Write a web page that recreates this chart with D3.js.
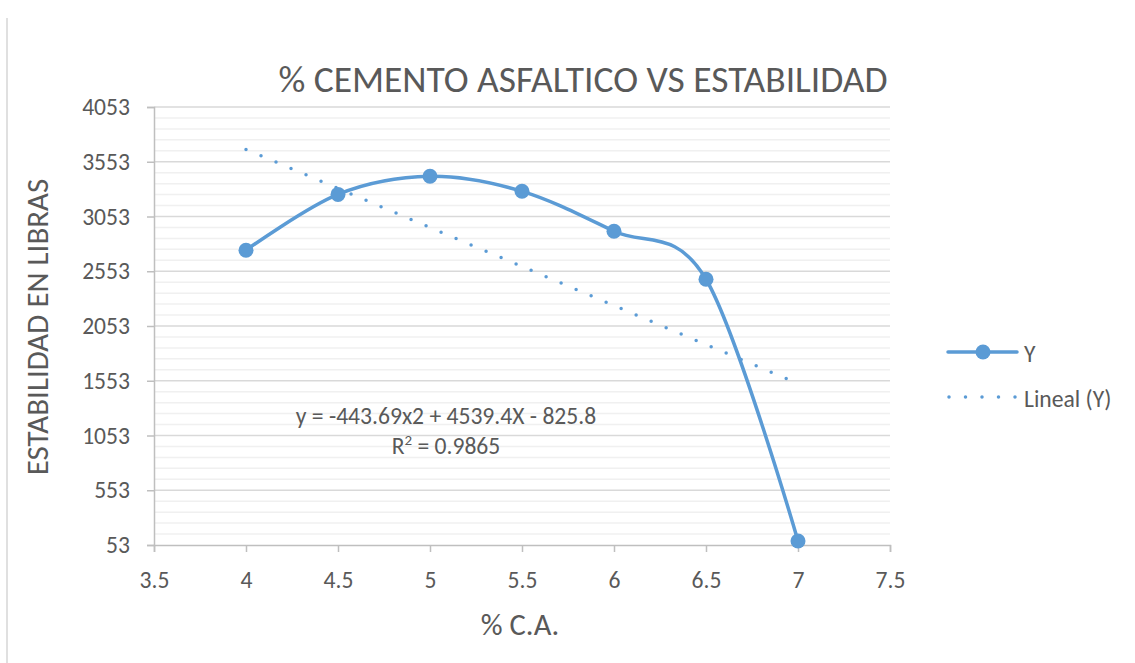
<!DOCTYPE html>
<html>
<head>
<meta charset="utf-8">
<script src="https://cdn.jsdelivr.net/npm/d3@7"></script>
<style>
    html, body { margin: 0; padding: 0; background: #fff; }
    #chart { width: 1135px; height: 663px; }
    text { font-family: Carlito, Lato, "Open Sans", sans-serif; fill: #595959; }
</style>
</head>
<body>
<div id="chart"></div>
<script>
// data
var caPercent = [4, 4.5, 5, 5.5, 6, 6.5, 7];
var stability = [2745, 3255, 3420, 3283, 2918, 2480, 90];

// linear trendline end points ("Lineal (Y)")
var trendX = [4, 7];
var trendY = [3666, 1527];

var xTicks = [3.5, 4, 4.5, 5, 5.5, 6, 6.5, 7, 7.5];
var yTicks = [53, 553, 1053, 1553, 2053, 2553, 3053, 3553, 4053];

var chartTitle = "% CEMENTO ASFALTICO VS ESTABILIDAD";
var xTitle = "% C.A.";
var yTitle = "ESTABILIDAD EN LIBRAS";
var equation = "y = -443.69x2 + 4539.4X - 825.8";
var legendNames = ["Y", "Lineal (Y)"];

var blue = "#5b9bd5";

function paint() {
    d3.select("svg").remove();
    var margin = { top: 107, right: 245, bottom: 118, left: 154 },
        width = 1135 - margin.left - margin.right,
        height = 663 - margin.top - margin.bottom;

    var root = d3.select("#chart")
        .append("svg")
        .attr("width", 1135)
        .attr("height", 663);

    // page border on the left
    root.append("line")
        .attr("x1", 7).attr("x2", 7)
        .attr("y1", 18).attr("y2", 663)
        .style("stroke", "#d6d6d6")
        .style("stroke-width", 1.5);

    var svg = root.append("g")
        .attr("transform", "translate(" + margin.left + "," + margin.top + ")");

    var x = d3.scaleLinear().domain([3.5, 7.5]).range([0, width]);
    var y = d3.scaleLinear().domain([53, 4053]).range([height, 0]);

    // minor gridlines every 100
    svg.append("g")
        .selectAll("line")
        .data(d3.range(153, 4053, 100).filter(function (v) { return (v - 53) % 500 !== 0; }))
        .enter()
        .append("line")
        .attr("x1", 0).attr("x2", width)
        .attr("y1", function (d) { return y(d); })
        .attr("y2", function (d) { return y(d); })
        .style("stroke", "#f0f0f0")
        .style("stroke-width", 1.5);

    // major gridlines
    svg.append("g")
        .selectAll("line")
        .data(yTicks.slice(1))
        .enter()
        .append("line")
        .attr("x1", 0).attr("x2", width)
        .attr("y1", function (d) { return y(d); })
        .attr("y2", function (d) { return y(d); })
        .style("stroke", "#d9d9d9")
        .style("stroke-width", 1.5);

    // X axis
    var xAxis = svg.append("g")
        .attr("transform", "translate(0," + height + ")")
        .call(d3.axisBottom(x).tickValues(xTicks).tickSize(7).tickPadding(19)
            .tickFormat(function (d) { return String(d); }));
    xAxis.select(".domain").style("stroke", "#bfbfbf").style("stroke-width", 1.5);
    xAxis.selectAll(".tick line").style("stroke", "#bfbfbf").style("stroke-width", 1.5);
    xAxis.selectAll("text")
        .style("font-size", "23.6px")
        .style("fill", "#595959")
        .style("font-family", "Carlito, Lato, sans-serif");

    // Y axis
    var yAxis = svg.append("g")
        .call(d3.axisLeft(y).tickValues(yTicks).tickSize(7).tickPadding(17)
            .tickFormat(function (d) { return String(d); }));
    yAxis.select(".domain").style("stroke", "#bfbfbf").style("stroke-width", 1.5);
    yAxis.selectAll(".tick line").style("stroke", "#bfbfbf").style("stroke-width", 1.5);
    yAxis.selectAll("text")
        .style("font-size", "23.6px")
        .style("fill", "#595959")
        .style("font-family", "Carlito, Lato, sans-serif");

    // titles
    root.append("text")
        .attr("x", 583).attr("y", 92)
        .style("text-anchor", "middle")
        .style("font-size", "37.5px")
        .text(chartTitle);

    root.append("text")
        .attr("x", 520).attr("y", 635)
        .style("text-anchor", "middle")
        .style("font-size", "30.5px")
        .text(xTitle);

    root.append("text")
        .attr("transform", "translate(48,327) rotate(-90)")
        .style("text-anchor", "middle")
        .style("font-size", "31px")
        .text(yTitle);

    // trendline (dotted)
    var trend = trendX.map(function (d, i) { return [d, trendY[i]]; });
    svg.append("path")
        .datum(trend)
        .attr("d", d3.line()
            .x(function (d) { return x(d[0]); })
            .y(function (d) { return y(d[1]); }))
        .style("fill", "none")
        .style("stroke", blue)
        .style("stroke-width", 3.5)
        .style("stroke-linecap", "round")
        .style("stroke-dasharray", "0,16.3");

    // main series, smoothed
    var pts = caPercent.map(function (d, i) { return [d, stability[i]]; });
    svg.append("path")
        .datum(pts)
        .attr("d", d3.line()
            .curve(d3.curveCardinal.tension(0))
            .x(function (d) { return x(d[0]); })
            .y(function (d) { return y(d[1]); }))
        .style("fill", "none")
        .style("stroke", blue)
        .style("stroke-width", 3.5);

    svg.append("g")
        .selectAll("circle")
        .data(pts)
        .enter()
        .append("circle")
        .attr("cx", function (d) { return x(d[0]); })
        .attr("cy", function (d) { return y(d[1]); })
        .attr("r", 7.5)
        .style("fill", blue);

    // equation label
    root.append("text")
        .attr("x", 446).attr("y", 424)
        .style("text-anchor", "middle")
        .style("font-size", "23.6px")
        .text(equation);

    var r2 = root.append("text")
        .attr("x", 446).attr("y", 454)
        .style("text-anchor", "middle")
        .style("font-size", "23.6px");
    r2.append("tspan").text("R");
    r2.append("tspan").attr("dy", -9).style("font-size", "15px").text("2");
    r2.append("tspan").attr("dy", 9).text(" = 0.9865");

    // legend
    var legend = root.append("g");
    legend.append("line")
        .attr("x1", 948).attr("x2", 1017)
        .attr("y1", 352).attr("y2", 352)
        .style("stroke", blue)
        .style("stroke-width", 3.5)
        .style("stroke-linecap", "round");
    legend.append("circle")
        .attr("cx", 983).attr("cy", 352).attr("r", 7.5)
        .style("fill", blue);
    legend.append("text")
        .attr("x", 1024).attr("y", 362)
        .style("font-size", "23.6px")
        .text(legendNames[0]);

    legend.append("line")
        .attr("x1", 949).attr("x2", 1016)
        .attr("y1", 397).attr("y2", 397)
        .style("stroke", blue)
        .style("stroke-width", 3.5)
        .style("stroke-linecap", "round")
        .style("stroke-dasharray", "0,16.5");
    legend.append("text")
        .attr("x", 1024).attr("y", 407)
        .style("font-size", "23.6px")
        .text(legendNames[1]);
}

paint();
</script>
</body>
</html>
